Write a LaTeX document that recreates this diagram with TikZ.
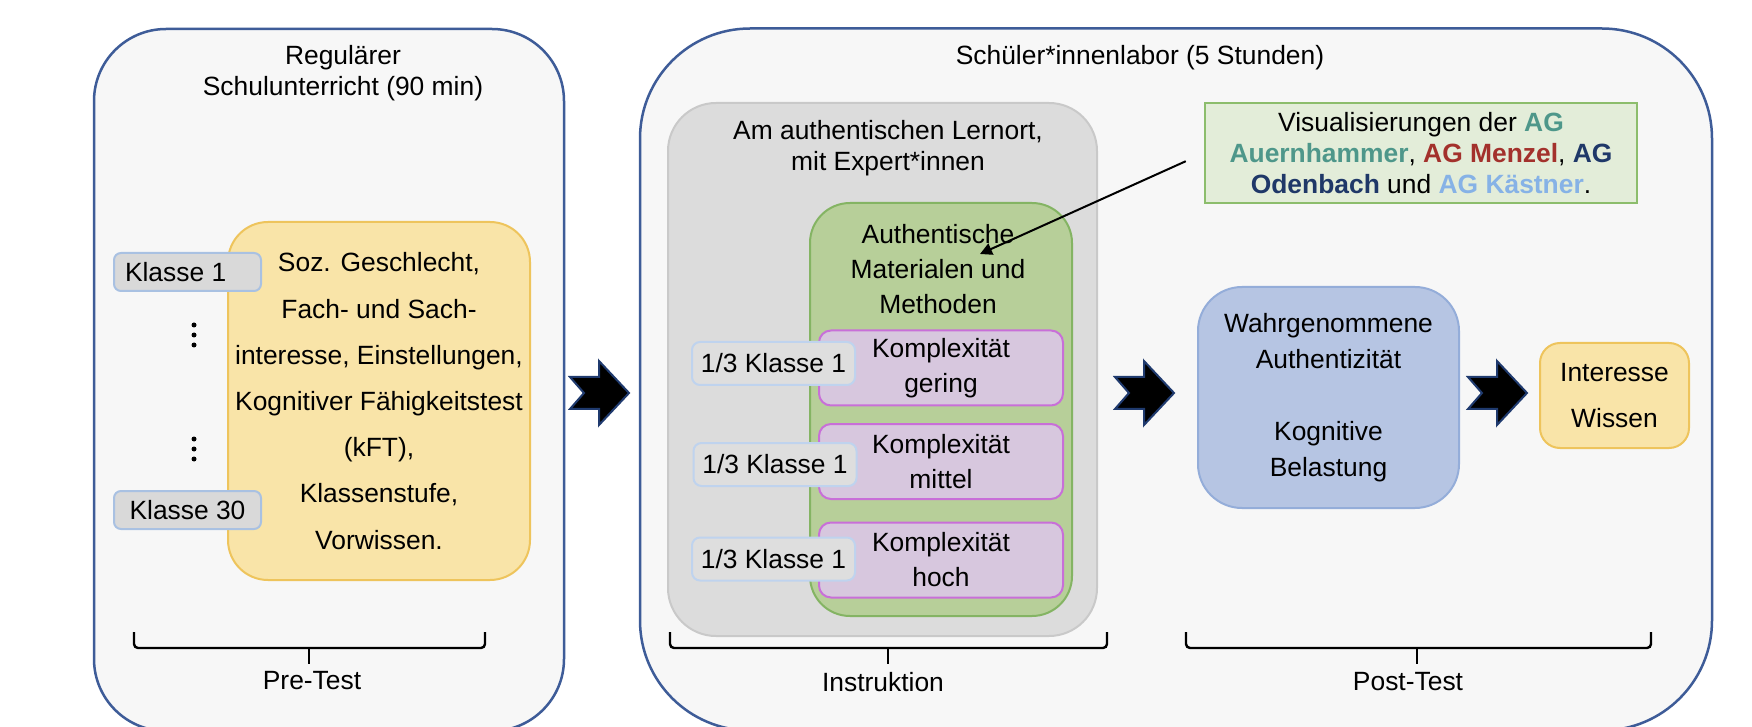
\documentclass[tikz,border=0pt]{standalone}
\usepackage{fontspec}
\setmainfont{Liberation Sans}
\usetikzlibrary{arrows.meta,calc}
\definecolor{outerblue}{HTML}{3E5C98}
\definecolor{outerfill}{HTML}{F7F7F7}
\definecolor{yelfill}{HTML}{F9E4A8}
\definecolor{yeldraw}{HTML}{EEC45C}
\definecolor{klfill}{HTML}{D9D9D9}
\definecolor{kldraw}{HTML}{A9C1E2}
\definecolor{grayfill}{HTML}{DCDCDC}
\definecolor{graydraw}{HTML}{C9C9C9}
\definecolor{greenfill}{HTML}{B7CF99}
\definecolor{greendraw}{HTML}{84B463}
\definecolor{purfill}{HTML}{D7C7DE}
\definecolor{purdraw}{HTML}{C86FD8}
\definecolor{thirdfill}{HTML}{DEDEDE}
\definecolor{thirddraw}{HTML}{BFD3EE}
\definecolor{visfill}{HTML}{E3EDD9}
\definecolor{visdraw}{HTML}{8CBD6C}
\definecolor{bluefill}{HTML}{B6C5E3}
\definecolor{bluedraw}{HTML}{94ADD9}
\definecolor{agteal}{HTML}{4E978A}
\definecolor{agred}{HTML}{A3312C}
\definecolor{agnavy}{HTML}{1F3868}
\definecolor{aglight}{HTML}{86B2E6}
\definecolor{chevdraw}{HTML}{1F3A6E}
\begin{document}
\begin{tikzpicture}[x=0.5pt,y=-0.5pt,
  every node/.style={font=\fontsize{13.2}{15.5}\selectfont, inner sep=0pt, align=center},
  outerbox/.style={draw=outerblue, line width=1.25pt, fill=outerfill, rounded corners=36pt},
  yelbox/.style={draw=yeldraw, line width=1pt, fill=yelfill, rounded corners=20pt},
  klbox/.style={draw=kldraw, line width=1pt, fill=klfill, rounded corners=3.5pt, minimum width=73.5pt, minimum height=19pt},
  graybox/.style={draw=graydraw, line width=1pt, fill=grayfill, rounded corners=24pt},
  greenbox/.style={draw=greendraw, line width=1pt, fill=greenfill, rounded corners=20pt},
  purbox/.style={draw=purdraw, line width=1pt, fill=purfill, rounded corners=6pt, minimum width=122pt, minimum height=37.5pt, font=\fontsize{13.2}{17.5}\selectfont},
  thirdbox/.style={draw=thirddraw, line width=1pt, fill=thirdfill, rounded corners=4pt, minimum width=81.5pt, minimum height=21.5pt},
  visbox/.style={draw=visdraw, line width=1pt, fill=visfill, minimum width=216pt, minimum height=50pt},
  bluebox/.style={draw=bluedraw, line width=1pt, fill=bluefill, rounded corners=22pt},
  bracepath/.style={draw=black, line width=1.2pt, rounded corners=2pt},
  chevron/.style={fill=black, draw=chevdraw, line width=1pt, line join=miter},
  chev/.pic={\filldraw[chevron] (0,0) -- (-30,-32) -- (-30,-16) -- (-59,-16) -- (-45,0) -- (-59,16) -- (-30,16) -- (-30,32) -- cycle;}
]
\useasboundingbox (0,0) rectangle (1752,727);
\fill[white] (0,0) rectangle (1752,727);

% outer boxes
\node[outerbox, minimum width=235pt, minimum height=351pt] (leftbox) at (329,380) {};
\node[outerbox, rounded corners=55pt, minimum width=536pt, minimum height=351pt] (rightbox) at (1176,379.5) {};
\node (lefttitle) at (343,73) {Regulärer\\Schulunterricht (90 min)};
\node (righttitle) at (1140,58) {Schüler*innenlabor (5 Stunden)};

% pre-test part
\node[yelbox, minimum width=151pt, minimum height=179pt, font=\fontsize{13.2}{23.1}\selectfont] (yellow) at (379,401)
  {Soz. Geschlecht,\\Fach- und Sach-\\interesse, Einstellungen,\\Kognitiver Fähigkeitstest\\(kFT),\\Klassenstufe,\\Vorwissen.};
\node[klbox] (k1) at (187.5,272) {\makebox[73.5pt][l]{\hspace{5.5pt}Klasse 1}};
\node[klbox] (k30) at (187.5,510) {Klasse 30};
\foreach \cy in {335,449} {
  \foreach \dy in {-10,0,10} \fill (194,\cy+\dy) circle[radius=1.25pt];
}
\draw[bracepath] (134,632) -- (134,648) -- (485,648) -- (485,632);
\draw[line width=1.2pt] (309,648) -- (309,664);
\node (pretest) at (312,681) {Pre-Test};

% chevrons
\pic at (629,393) {chev};
\pic at (1174,393) {chev};
\pic at (1527,393) {chev};

% instruction part
\node[graybox, minimum width=214.5pt, minimum height=266.5pt] (gray) at (882.5,369.5) {};
\node (graytitle) at (888,148) {Am authentischen Lernort,\\mit Expert*innen};
\node[greenbox, minimum width=131pt, minimum height=206.5pt] (green) at (941,409.5) {};
\node[font=\fontsize{13.2}{17.5}\selectfont] (greentitle) at (938,269) {Authentische\\Materialen und\\Methoden};
\node[purbox] (p1) at (941,368) {Komplexität\\gering};
\node[purbox] (p2) at (941,461.5) {Komplexität\\mittel};
\node[purbox] (p3) at (941,560) {Komplexität\\hoch};
\node[thirdbox] (t1) at (773.5,363.5) {1/3 Klasse 1};
\node[thirdbox] (t2) at (775,464.5) {1/3 Klasse 1};
\node[thirdbox] (t3) at (773.5,559) {1/3 Klasse 1};
\draw[bracepath] (670,632) -- (670,648) -- (1107,648) -- (1107,632);
\draw[line width=1.2pt] (888,648) -- (888,664);
\node (instr) at (883,682) {Instruktion};

% visualisation note
\node[visbox] (vis) at (1421,153)
  {Visualisierungen der \textbf{\color{agteal}AG}\\
   \textbf{\color{agteal}Auernhammer}, \textbf{\color{agred}AG Menzel}, \textbf{\color{agnavy}AG}\\
   \textbf{\color{agnavy}Odenbach} und \textbf{\color{aglight}AG Kästner}.};
\coordinate (arrend) at (980,254);
\draw[line width=1pt, -{Triangle[length=6pt,width=6pt]}, shorten <=10pt] (vis.west) -- (arrend);

% post-test part
\node[bluebox, minimum width=130.5pt, minimum height=110.5pt, font=\fontsize{13.2}{18}\selectfont] (blue) at (1328.5,397.5)
  {Wahrgenommene\\Authentizität\\[18pt]Kognitive\\Belastung};
\node[yelbox, rounded corners=10pt, minimum width=74.5pt, minimum height=52.5pt, font=\fontsize{13.2}{23}\selectfont] (interesse) at (1614.5,395.5)
  {Interesse\\Wissen};
\draw[bracepath] (1186,632) -- (1186,648) -- (1651,648) -- (1651,632);
\draw[line width=1.2pt] (1417,648) -- (1417,664);
\node (posttest) at (1408,682) {Post-Test};
\end{tikzpicture}
\end{document}
